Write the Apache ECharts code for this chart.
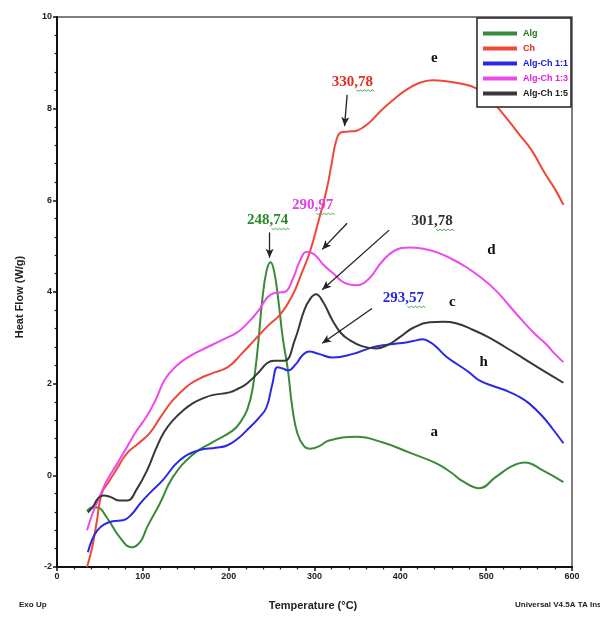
<!DOCTYPE html>
<html>
<head>
<meta charset="utf-8">
<script src="https://cdn.jsdelivr.net/npm/echarts@6/dist/echarts.min.js"></script>
<style>
  html, body { margin: 0; padding: 0; background: #fff; }
  #chart { width: 600px; height: 619px; }
</style>
</head>
<body>
<div id="chart"></div>
<script>
// DSC thermograms: heat flow (W/g) versus temperature (°C)
const seriesNames = ['Alg', 'Ch', 'Alg-Ch 1:1', 'Alg-Ch 1:3', 'Alg-Ch 1:5'];

const algData = [
  [35,-0.78],[41,-0.7],[47,-0.7],[58,-0.92],[73,-1.35],[87,-1.57],[97,-1.45],[105,-1.13],
  [120,-0.61],[135,-0.04],[158,0.45],[181,0.72],[205,0.98],[215,1.2],[222,1.45],[228,1.9],
  [234,2.8],[239,3.8],[244,4.45],[248.74,4.65],[253,4.45],[258,3.8],[263,3.0],[269,2.3],
  [274,1.5],[280,0.92],[288,0.63],[295,0.58],[305,0.63],[317,0.76],[349,0.84],[379,0.72],
  [410,0.5],[442,0.26],[460,0.05],[472,-0.12],[492,-0.28],[511,-0.04],[530,0.2],[545,0.28],
  [565,0.12],[590,-0.15]
];

const chData = [
  [35,-2.0],[41,-1.57],[46,-1.05],[52,-0.4],[60,-0.15],[70,0.15],[81,0.47],[95,0.7],
  [108,0.92],[121,1.28],[135,1.64],[152,1.95],[165,2.1],[180,2.22],[199,2.36],[215,2.65],
  [230,2.95],[245,3.25],[261,3.53],[275,3.95],[285,4.41],[294,4.84],[304,5.5],[314,6.22],
  [320,6.8],[325,7.28],[330.78,7.48],[340,7.5],[349,7.52],[364,7.7],[377,7.95],[391,8.18],
  [406,8.4],[422,8.56],[437,8.62],[453,8.6],[470,8.55],[488,8.45],[505,8.2],[523,7.81],
  [538,7.45],[553,7.09],[568,6.6],[580,6.25],[590,5.9]
];

const algCh11Data = [
  [36,-1.68],[41,-1.4],[47,-1.2],[55,-1.07],[65,-1.0],[77,-0.98],[87,-0.85],[97,-0.61],
  [110,-0.35],[123,-0.11],[143,0.33],[166,0.55],[185,0.6],[198,0.65],[212,0.82],[221,0.98],
  [235,1.25],[244,1.48],[251,2.0],[257,2.36],[263,2.33],[269,2.29],[278,2.42],[286,2.62],
  [293.57,2.7],[305,2.65],[321,2.57],[345,2.65],[367,2.79],[385,2.85],[399,2.88],[415,2.93],
  [426,2.97],[435,2.9],[442,2.8],[453,2.6],[465,2.44],[480,2.25],[492,2.07],[508,1.95],
  [523,1.85],[538,1.72],[550,1.57],[565,1.3],[578,1.0],[590,0.7]
];

const algCh13Data = [
  [35,-1.2],[42,-0.8],[50,-0.45],[58,-0.12],[70,0.25],[81,0.6],[92,0.95],[105,1.3],
  [115,1.65],[126,2.1],[140,2.4],[152,2.57],[170,2.75],[192,2.95],[210,3.12],[222,3.32],
  [235,3.6],[245,3.88],[253,3.98],[265,4.0],[275,4.3],[283,4.68],[290.97,4.88],[300,4.82],
  [310,4.6],[321,4.42],[335,4.2],[349,4.15],[364,4.3],[378,4.65],[393,4.9],[410,4.97],
  [425,4.95],[442,4.87],[460,4.72],[477,4.54],[495,4.3],[512,4.02],[527,3.7],[542,3.38],
  [556,3.1],[570,2.86],[580,2.65],[590,2.47]
];

const algCh15Data = [
  [36,-0.81],[42,-0.68],[48,-0.5],[54,-0.44],[62,-0.47],[73,-0.55],[82,-0.55],[93,-0.3],
  [105,0.11],[116,0.61],[125,0.95],[135,1.2],[146,1.4],[158,1.57],[170,1.68],[181,1.75],
  [201,1.81],[212,1.9],[221,2.0],[235,2.25],[245,2.45],[253,2.5],[265,2.5],[277,2.95],
  [288,3.6],[295,3.85],[301.78,3.95],[310,3.78],[321,3.38],[331,3.1],[341,2.95],[355,2.82],
  [372,2.77],[386,2.85],[399,3.01],[415,3.22],[434,3.34],[450,3.35],[465,3.32],[485,3.17],
  [503,3.01],[522,2.8],[542,2.57],[565,2.3],[590,2.02]
];

// Peak / shoulder temperatures written on the plot, one per series (same order)
const peakLabels = ['248,74', '330,78', '293,57', '290,97', '301,78'];
const curveLetters = ['a', 'e', 'h', 'd', 'c'];

const lineColors = ['#3a8a3a', '#f04838', '#2a2ae6', '#ee48ee', '#383838'];
const legendTextColors = ['#1c7a1c', '#e82018', '#1818e0', '#e020e0', '#1a1a1a'];

const chart = echarts.init(document.getElementById('chart'), null, { renderer: 'canvas' });

const tickFont = { fontFamily: 'Liberation Sans, Arial, sans-serif', fontWeight: 'bold', fontSize: 9, color: '#222' };

function arrow(from, to) {
  return [{ coord: from }, { coord: to }];
}

const allData = [algData, chData, algCh11Data, algCh13Data, algCh15Data];

// Arrows for each annotated transition (tail -> head, in data coordinates)
const arrowLines = [
  [arrow([247.7, 5.3], [247.7, 4.75])],
  [arrow([338, 8.3], [335, 7.62])],
  [arrow([367, 3.64], [309, 2.88])],
  [arrow([338, 5.5], [309, 4.93])],
  [arrow([387, 5.35], [309, 4.05])]
];

const series = seriesNames.map((name, i) => ({
  name: name,
  type: 'line',
  data: allData[i],
  showSymbol: false,
  smooth: 0.45,
  lineStyle: { color: lineColors[i], width: 2 },
  itemStyle: { color: lineColors[i] },
  markLine: {
    silent: true,
    symbol: ['none', 'arrow'],
    symbolSize: [6, 9],
    label: { show: false },
    lineStyle: { color: '#222', width: 1.3, type: 'solid' },
    data: arrowLines[i]
  },
  z: 3
}));

chart.setOption({
  animation: false,
  backgroundColor: '#ffffff',
  grid: {
    left: 57, right: 28, top: 17, bottom: 52,
    show: true, borderColor: '#555', borderWidth: 1.5, backgroundColor: 'transparent'
  },
  legend: {
    orient: 'vertical',
    left: 477, top: 18,
    padding: [10, 3, 8, 6],
    itemGap: 4,
    itemWidth: 34, itemHeight: 4,
    icon: 'rect',
    backgroundColor: '#fff',
    borderColor: '#222', borderWidth: 1.5,
    textStyle: { fontFamily: 'Liberation Sans, Arial, sans-serif', fontWeight: 'bold', fontSize: 9, lineHeight: 11, padding: [0, 0, 0, 1] },
    data: seriesNames.map((n, i) => ({ name: n, textStyle: { color: legendTextColors[i] } }))
  },
  xAxis: {
    type: 'value', min: 0, max: 600, interval: 100,
    axisLine: { show: true, onZero: false, lineStyle: { color: '#111', width: 2 } },
    axisTick: { show: true, length: 4, lineStyle: { color: '#111', width: 1.5 } },
    minorTick: { show: true, splitNumber: 5, length: 2.5, lineStyle: { color: '#222', width: 1.2 } },
    splitLine: { show: false },
    axisLabel: Object.assign({ margin: 5 }, tickFont)
  },
  yAxis: {
    type: 'value', min: -2, max: 10, interval: 2,
    axisLine: { show: true, onZero: false, lineStyle: { color: '#111', width: 2 } },
    axisTick: { show: true, length: 4, lineStyle: { color: '#111', width: 1.5 } },
    minorTick: { show: true, splitNumber: 5, length: 2.5, lineStyle: { color: '#222', width: 1.2 } },
    splitLine: { show: false },
    axisLabel: Object.assign({ margin: 5 }, tickFont)
  },
  series: series
});

// Text annotations positioned through the chart's own coordinate system
const px = (x, y) => chart.convertToPixel({ gridIndex: 0 }, [x, y]);

const peakPositions = [[245.3, 5.56], [344, 8.58], [403.5, 3.86], [297.7, 5.89], [437, 5.54]];
const peakColors = ['#2a8a2a', '#e82a20', '#2a2ae0', '#e040e0', '#333333'];
const letterPositions = [[439.5, 0.94], [439.5, 9.1], [497, 2.47], [506, 4.91], [460.5, 3.77]];

const graphics = [];
peakLabels.forEach((t, i) => {
  const p = px(peakPositions[i][0], peakPositions[i][1]);
  graphics.push({
    type: 'text', x: p[0], y: p[1], z: 10,
    style: {
      text: t, fill: peakColors[i], align: 'center', verticalAlign: 'middle',
      font: 'bold 15px "Liberation Serif", "Times New Roman", serif'
    }
  });
  // wavy green underline under the decimal digits
  const pts = [];
  for (let k = 0; k <= 9; k++) {
    pts.push([p[0] + 4 + k * 2, p[1] + 8 + (k % 2 ? 1.2 : -0.2)]);
  }
  graphics.push({
    type: 'polyline', z: 10, shape: { points: pts },
    style: { stroke: '#4aa84a', lineWidth: 1, fill: null }
  });
});

curveLetters.forEach((t, i) => {
  const p = px(letterPositions[i][0], letterPositions[i][1]);
  graphics.push({
    type: 'text', x: p[0], y: p[1], z: 10,
    style: {
      text: t, fill: '#111', align: 'center', verticalAlign: 'middle',
      font: 'bold 15px "Liberation Serif", "Times New Roman", serif'
    }
  });
});

// Axis titles and instrument footer
graphics.push(
  {
    type: 'text', x: 20, y: 297, rotation: Math.PI / 2, z: 10,
    style: { text: 'Heat Flow (W/g)', fill: '#222', align: 'center', verticalAlign: 'middle',
      font: 'bold 11px "Liberation Sans", Arial, sans-serif' }
  },
  {
    type: 'text', x: 313, y: 606, z: 10,
    style: { text: 'Temperature (°C)', fill: '#222', align: 'center', verticalAlign: 'middle',
      font: 'bold 11px "Liberation Sans", Arial, sans-serif' }
  },
  {
    type: 'text', x: 19, y: 605, z: 10,
    style: { text: 'Exo Up', fill: '#222', align: 'left', verticalAlign: 'middle',
      font: 'bold 8px "Liberation Sans", Arial, sans-serif' }
  },
  {
    type: 'text', x: 515, y: 605, z: 10,
    style: { text: 'Universal V4.5A TA Instruments', fill: '#222', align: 'left', verticalAlign: 'middle',
      font: 'bold 8px "Liberation Sans", Arial, sans-serif' }
  }
);

chart.setOption({ graphic: graphics });
</script>
</body>
</html>
